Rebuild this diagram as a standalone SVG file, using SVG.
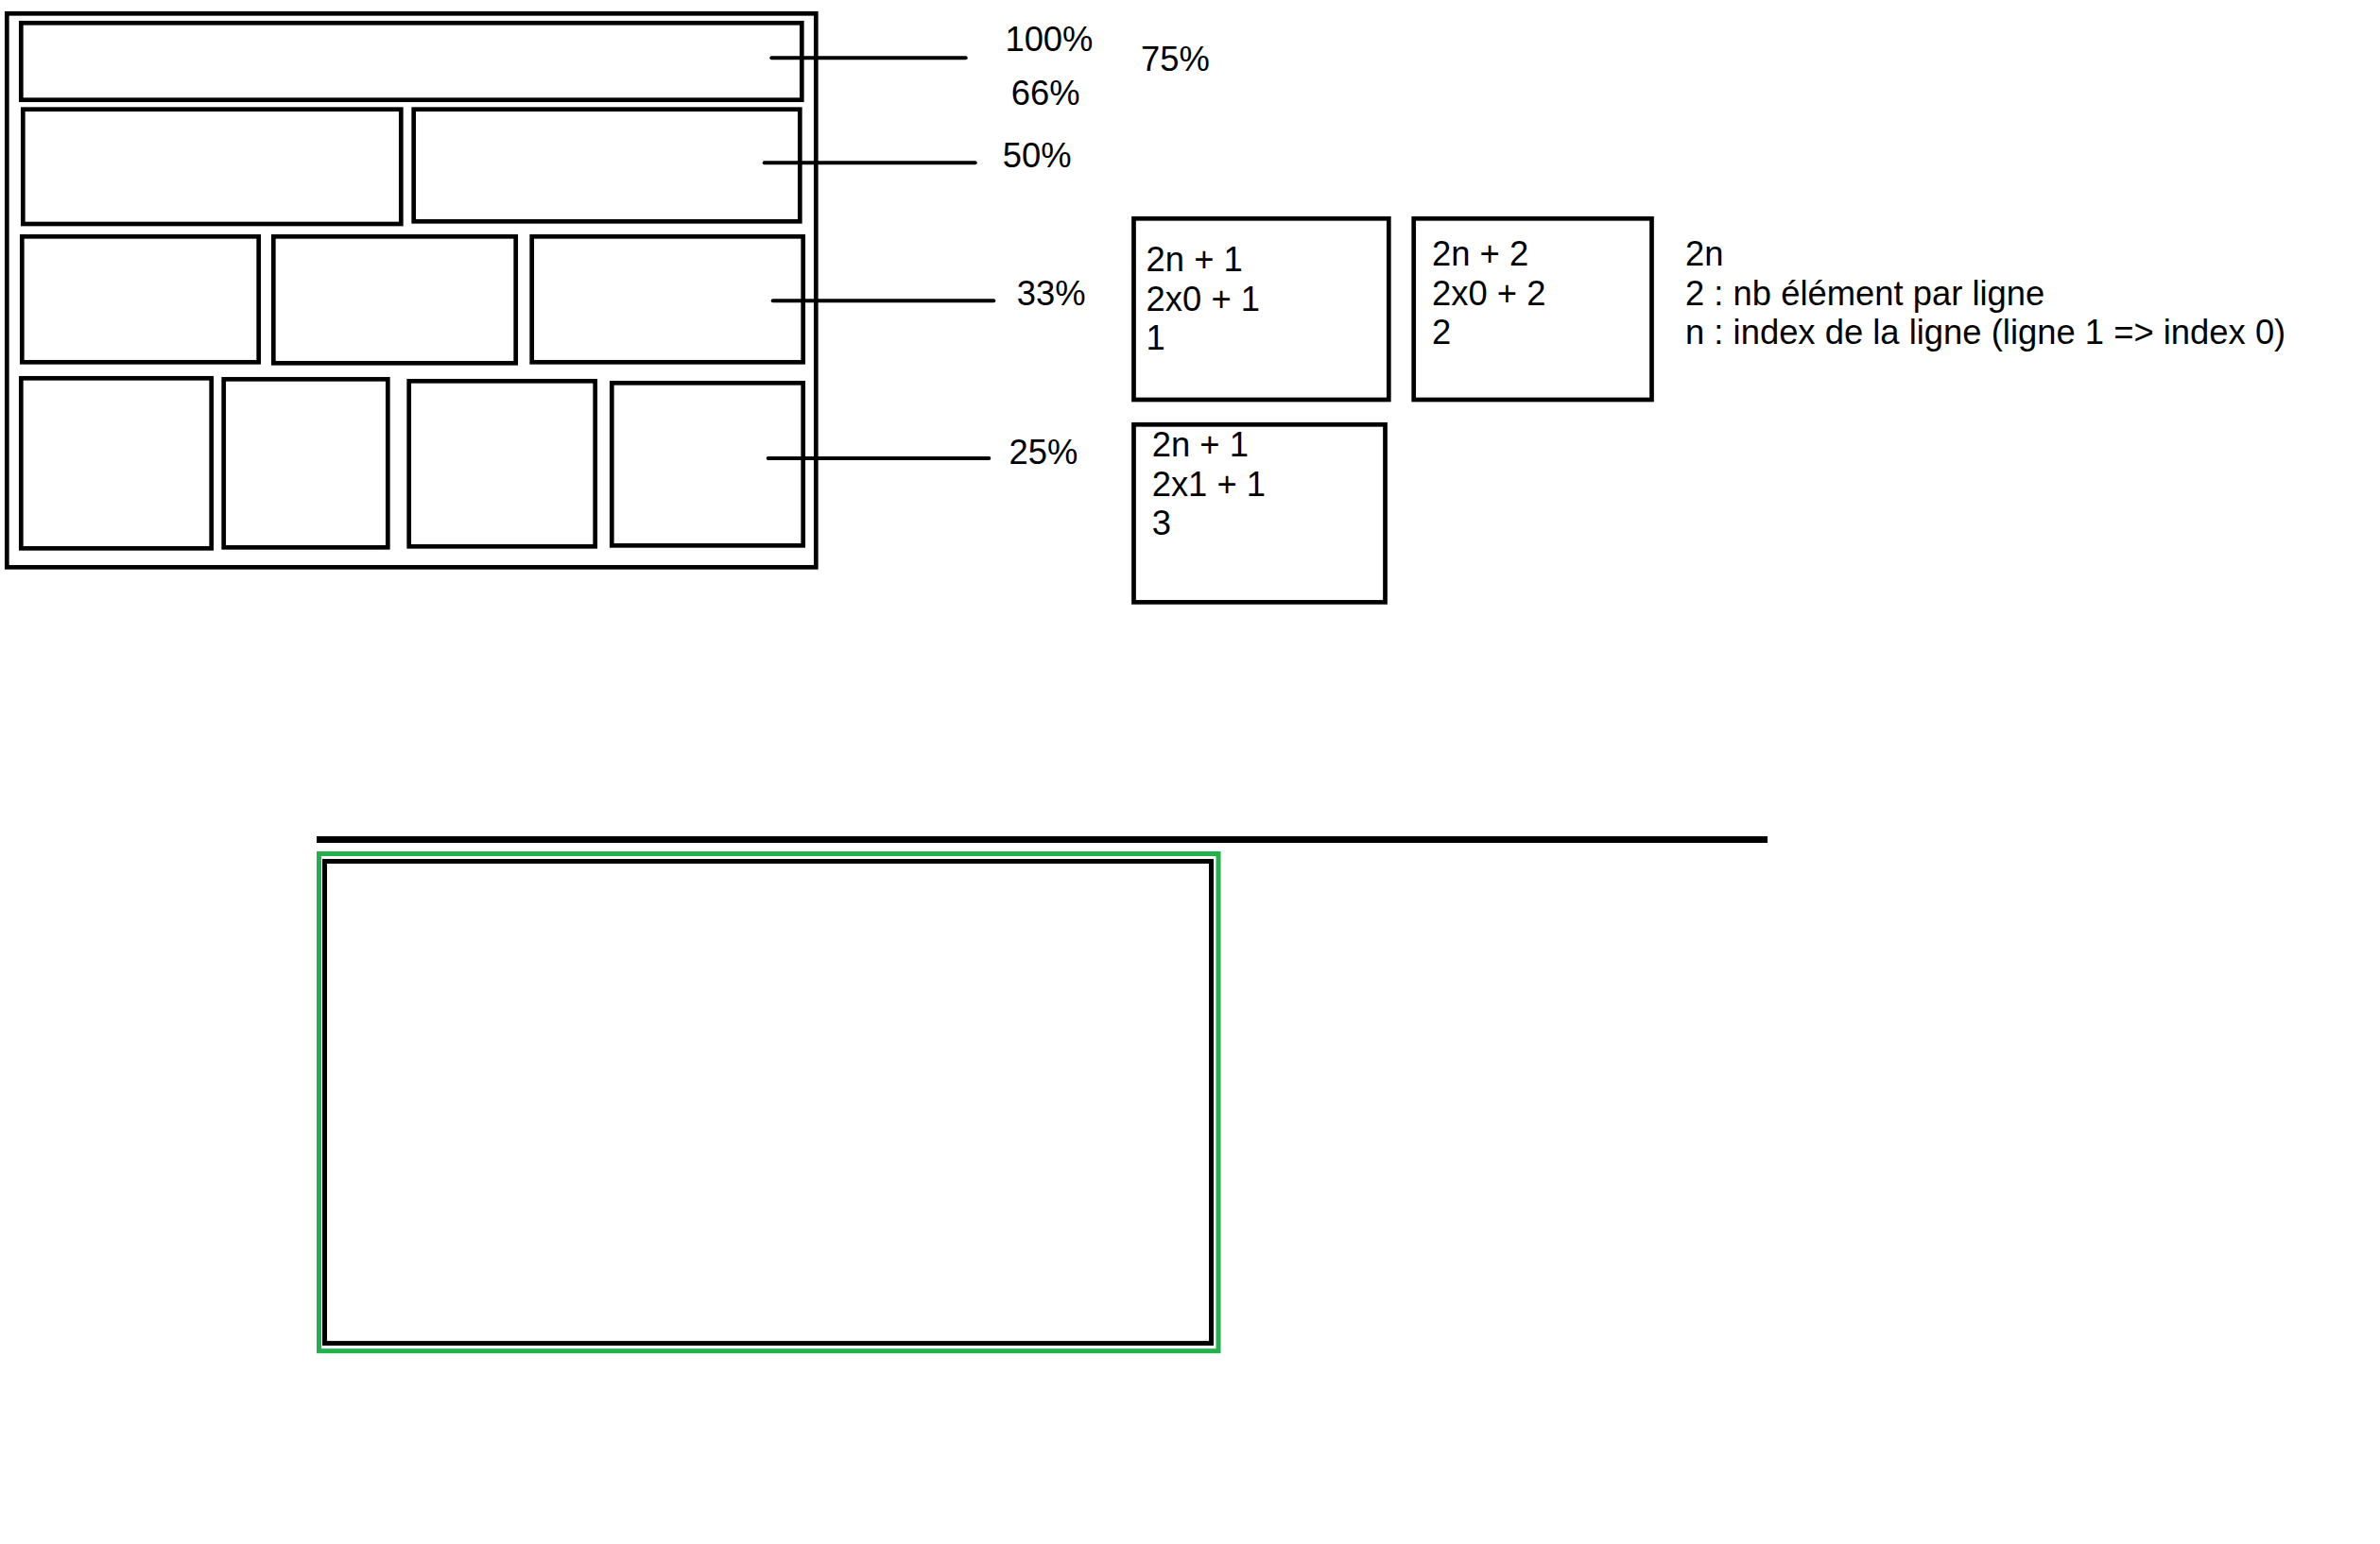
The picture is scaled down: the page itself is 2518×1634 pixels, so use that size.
<svg xmlns="http://www.w3.org/2000/svg" width="2518" height="1634" viewBox="0 0 2518 1634">
<style>
.box{fill:none;stroke:#000;stroke-width:4.7}
.ptr{stroke:#000;stroke-width:4;stroke-linecap:round;fill:none}
.t{font-family:"Liberation Sans",Arial,sans-serif;font-size:36.4px;fill:#000}
</style>
<rect width="2518" height="1634" fill="#fff"/>
<g id="grid">
<rect id="frame" class="box" x="7.3" y="14.3" width="856" height="586"/>
<rect id="row1" class="box" x="22.3" y="24.3" width="826" height="81.4"/>
<rect id="row2a" class="box" x="24.3" y="115.7" width="400" height="121.3"/>
<rect id="row2b" class="box" x="437.7" y="115.7" width="408.6" height="118.6"/>
<rect id="row3a" class="box" x="23.3" y="250.3" width="250.4" height="133"/>
<rect id="row3b" class="box" x="289.3" y="250.3" width="256.4" height="134"/>
<rect id="row3c" class="box" x="562.7" y="250.3" width="287" height="133"/>
<rect id="row4a" class="box" x="22.3" y="400.3" width="201.4" height="180"/>
<rect id="row4b" class="box" x="236.7" y="401.3" width="173.6" height="178"/>
<rect id="row4c" class="box" x="432.7" y="403.3" width="197" height="175"/>
<rect id="row4d" class="box" x="647.3" y="405.3" width="202.4" height="172"/>
</g>
<g id="connectors">
<line class="ptr" x1="816.3" y1="61.3" x2="1021.7" y2="61.3"/>
<line class="ptr" x1="808.7" y1="172.3" x2="1031.7" y2="172.3"/>
<line class="ptr" x1="817.7" y1="318.3" x2="1051.3" y2="318.3"/>
<line class="ptr" x1="812.7" y1="485" x2="1046.3" y2="485"/>
</g>
<g id="labels">
<text class="t" x="1063.4" y="54">100%</text>
<text class="t" x="1207" y="74.5">75%</text>
<text class="t" x="1069.8" y="111">66%</text>
<text class="t" x="1060.7" y="177">50%</text>
<text class="t" x="1075.8" y="323">33%</text>
<text class="t" x="1067.6" y="491.3">25%</text>
</g>
<g id="cell1">
<rect class="box" x="1199.5" y="231.3" width="269.8" height="191.7"/>
<text class="t" x="1212.6" y="287">2n + 1</text>
<text class="t" x="1212.6" y="328.6">2x0 + 1</text>
<text class="t" x="1212.6" y="370.3">1</text>
</g>
<g id="cell2">
<rect class="box" x="1495.7" y="231.3" width="251.8" height="191.7"/>
<text class="t" x="1515" y="281">2n + 2</text>
<text class="t" x="1515" y="322.6">2x0 + 2</text>
<text class="t" x="1515" y="364.3">2</text>
</g>
<g id="cell3">
<rect class="box" x="1199.5" y="449.3" width="266" height="188"/>
<text class="t" x="1218.7" y="483">2n + 1</text>
<text class="t" x="1218.7" y="524.6">2x1 + 1</text>
<text class="t" x="1218.7" y="566.3">3</text>
</g>
<g id="legend">
<text class="t" x="1783" y="281.3">2n</text>
<text class="t" x="1783" y="322.8">2 : nb élément par ligne</text>
<text class="t" x="1783" y="364.3">n : index de la ligne (ligne 1 =&gt; index 0)</text>
</g>
<g id="bottom">
<rect x="335" y="885" width="1535" height="7" fill="#000"/>
<rect id="green-frame" x="337.5" y="903.5" width="951.5" height="526.2" fill="none" stroke="#22b14c" stroke-width="5"/>
<rect id="black-frame" x="343.5" y="911.5" width="938" height="510.1" fill="none" stroke="#000" stroke-width="5"/>
</g>
</svg>
